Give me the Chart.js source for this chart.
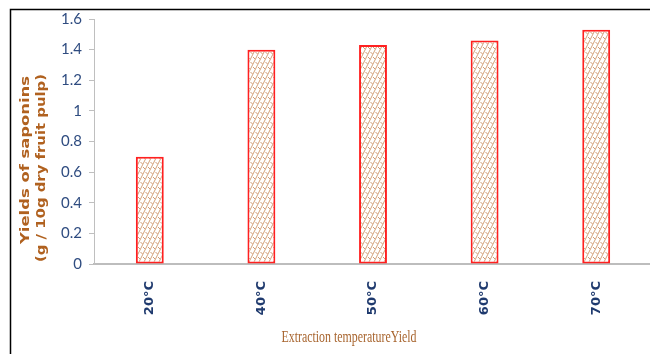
<!DOCTYPE html>
<html>
<head>
<meta charset="utf-8">
<script src="https://cdn.jsdelivr.net/npm/chart.js@4"></script>
<style>
  html, body { margin: 0; padding: 0; background: #fff; overflow: hidden; }
  #wrap { width: 652px; height: 354px; position: relative; }
</style>
</head>
<body>
<div id="wrap"><canvas id="c" width="652" height="354"></canvas></div>
<script>
// Saponin yield at each extraction temperature
const temperatures = ['20°C', '40°C', '50°C', '60°C', '70°C'];
const saponinYield = [0.70, 1.40, 1.43, 1.46, 1.53];
const yTickValues = [0, 0.2, 0.4, 0.6, 0.8, 1, 1.2, 1.4, 1.6];
const yTitleLines = ['Yields of saponins', '(g / 10g dry fruit pulp)'];
const xTitle = 'Extraction temperatureYield';

// Steep chain-link lattice fill used inside the bars
function makeHatch() {
  const t = document.createElement('canvas');
  t.width = 5; t.height = 10;
  const g = t.getContext('2d');
  g.fillStyle = '#ffffff';
  g.fillRect(0, 0, 5, 10);
  g.strokeStyle = '#d3a07a';
  g.lineWidth = 1;
  g.beginPath();
  g.moveTo(0, 10); g.lineTo(5, 0);
  g.moveTo(-5, 10); g.lineTo(0, 0);
  g.moveTo(5, 10); g.lineTo(10, 0);
  g.stroke();
  g.strokeStyle = 'rgba(192,120,70,0.75)';
  g.beginPath();
  g.moveTo(0.5, 2); g.lineTo(2.5, 4);
  g.moveTo(3, 7); g.lineTo(5, 9);
  g.stroke();
  return g.createPattern(t, 'repeat');
}

const ctx = document.getElementById('c').getContext('2d');

// Frame lines and the two axis titles (drawn condensed)
const decorations = {
  id: 'decorations',
  afterDraw(chart) {
    const c = chart.ctx;
    c.save();
    c.strokeStyle = '#000';
    c.lineWidth = 1.5;
    c.beginPath();
    c.moveTo(10.5, 354);
    c.lineTo(10.5, 9.5);
    c.lineTo(652, 9.5);
    c.stroke();

    // y-axis title, two rotated lines
    c.fillStyle = '#b0611f';
    c.font = 'bold 12px "DejaVu Sans"';
    c.textAlign = 'center';
    c.textBaseline = 'middle';
    const yPos = [{ x: 26, y: 160, len: 168 }, { x: 42, y: 168, len: 188 }];
    yTitleLines.forEach((line, i) => {
      const p = yPos[i];
      const w = c.measureText(line).width;
      c.save();
      c.translate(p.x, p.y);
      c.rotate(-Math.PI / 2);
      c.scale(p.len / w, 1);
      c.fillText(line, 0, 0);
      c.restore();
    });

    // x-axis title
    c.fillStyle = '#a8652f';
    c.font = '17px "Liberation Serif"';
    c.textBaseline = 'alphabetic';
    const wx = c.measureText(xTitle).width;
    c.save();
    c.translate(349, 342);
    c.scale(135 / wx, 1);
    c.fillText(xTitle, 0, 0);
    c.restore();
    c.restore();
  }
};

new Chart(ctx, {
  type: 'bar',
  data: {
    labels: temperatures,
    datasets: [{
      data: saponinYield,
      backgroundColor: makeHatch(),
      borderColor: '#ff2020',
      borderWidth: 2,
      borderSkipped: false,
      barPercentage: 0.25,
      categoryPercentage: 1
    }]
  },
  options: {
    responsive: false,
    animation: false,
    devicePixelRatio: 1,
    layout: { padding: { top: 19, left: 0, right: 0, bottom: 0 } },
    plugins: { legend: { display: false }, tooltip: { enabled: false } },
    scales: {
      x: {
        grid: { display: false },
        border: { display: true, color: '#bdbdbd', width: 2 },
        ticks: {
          color: '#1f3a6e',
          font: { family: 'DejaVu Sans', size: 13, weight: 'bold' },
          minRotation: 90, maxRotation: 90,
          padding: 9
        },
        afterFit(scale) { scale.height = 90; }
      },
      y: {
        min: 0, max: 1.6,
        afterBuildTicks(scale) { scale.ticks = yTickValues.map(v => ({ value: v })); },
        grid: { drawOnChartArea: false, drawTicks: true, tickLength: 5, color: '#bfbfbf' },
        border: { display: true, color: '#bfbfbf', width: 1 },
        ticks: {
          color: '#2f4c80',
          font: { family: 'Lato', size: 15 },
          padding: 7,
          callback: v => String(+Number(v).toFixed(1))
        },
        afterFit(scale) { scale.width = 94; }
      }
    }
  },
  plugins: [decorations]
});
</script>
</body>
</html>
